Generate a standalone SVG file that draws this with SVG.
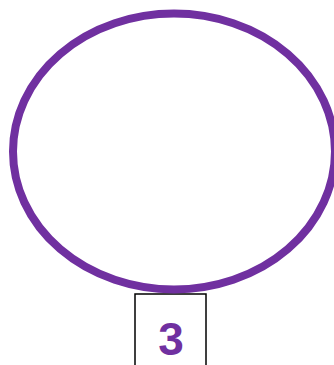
<svg xmlns="http://www.w3.org/2000/svg" width="334" height="365" viewBox="0 0 334 365">
<style>
.box{fill:#fff;stroke:#000;stroke-width:1.5}
.ell{fill:none;stroke:#7030A0;stroke-width:8}
.lbl{font-family:"Liberation Sans",Arial,sans-serif;font-weight:bold;font-size:46px;fill:#7030A0;text-anchor:middle}
</style>
<rect width="334" height="365" fill="#fff"/>
<g id="box3">
<rect class="box" x="135" y="294" width="71" height="80"/>
<text class="lbl" x="171" y="355">3</text>
</g>
<g id="ellipse">
<ellipse class="ell" cx="174" cy="151.5" rx="161" ry="138"/>
</g>
<g id="connectors"></g>
</svg>
